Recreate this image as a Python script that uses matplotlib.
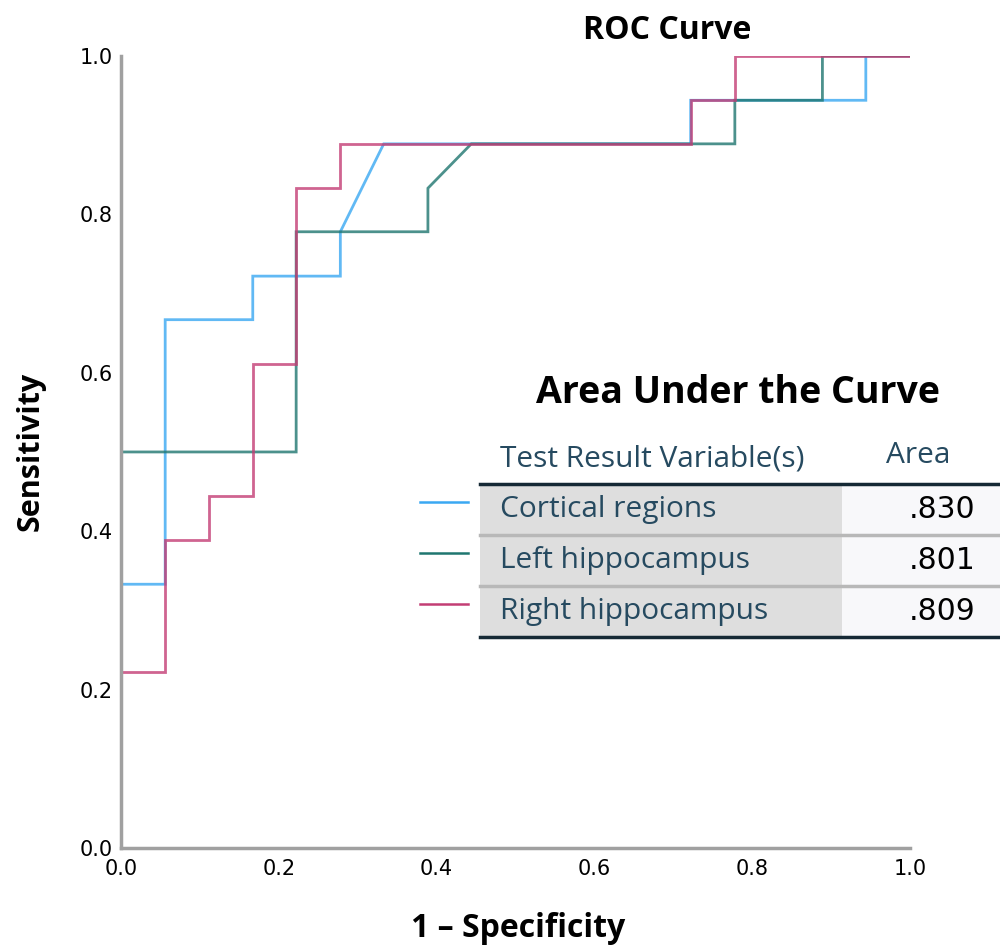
import numpy as np
import matplotlib
matplotlib.use('Agg')
import matplotlib.pyplot as plt
from matplotlib.patches import Rectangle

# ROC curve points (1 - specificity, sensitivity)
cortical_fpr = [0.0, 0.0, 0.056, 0.056, 0.167, 0.167, 0.278, 0.278, 0.333, 0.722, 0.722, 0.944, 0.944, 1.0]
cortical_tpr = [0.0, 0.333, 0.333, 0.667, 0.667, 0.722, 0.722, 0.778, 0.889, 0.889, 0.944, 0.944, 1.0, 1.0]

left_fpr = [0.0, 0.0, 0.222, 0.222, 0.389, 0.389, 0.444, 0.778, 0.778, 0.889, 0.889, 1.0]
left_tpr = [0.0, 0.5, 0.5, 0.778, 0.778, 0.833, 0.889, 0.889, 0.944, 0.944, 1.0, 1.0]

right_fpr = [0.0, 0.0, 0.056, 0.056, 0.111, 0.111, 0.167, 0.167, 0.222, 0.222, 0.278, 0.278, 0.722, 0.722, 0.778, 0.778, 1.0]
right_tpr = [0.0, 0.222, 0.222, 0.389, 0.389, 0.444, 0.444, 0.611, 0.611, 0.833, 0.833, 0.889, 0.889, 0.944, 0.944, 1.0, 1.0]

variables = ['Cortical regions', 'Left hippocampus', 'Right hippocampus']
areas = ['.830', '.801', '.809']
colors = ['#3aa8f2', '#1f7670', '#c33d74']

ticks = [0.0, 0.2, 0.4, 0.6, 0.8, 1.0]

fig = plt.figure(figsize=(10, 9.48), dpi=100)
ax = fig.add_axes([0.121, 0.1055, 0.789, 0.8355])

series = [(cortical_fpr, cortical_tpr), (left_fpr, left_tpr), (right_fpr, right_tpr)]
for (x, y), c in zip(series, colors):
    ax.plot(x, y, color=c, linewidth=2, alpha=0.8, solid_joinstyle='miter')

ax.set_xlim(0, 1)
ax.set_ylim(0, 1)
ax.set_xticks(ticks)
ax.set_yticks(ticks)
ax.set_xticklabels([f'{t:.1f}' for t in ticks])
ax.set_yticklabels([f'{t:.1f}' for t in ticks])
ax.tick_params(length=0, labelsize=15)
ax.tick_params(axis='x', pad=8)
ax.tick_params(axis='y', pad=6)
for lab in ax.get_xticklabels() + ax.get_yticklabels():
    lab.set_fontfamily(['Liberation Sans Narrow', 'DejaVu Sans'])
for s in ['top', 'right']:
    ax.spines[s].set_visible(False)
for s in ['left', 'bottom']:
    ax.spines[s].set_color('#a0a0a0')
    ax.spines[s].set_linewidth(2.5)

# titles and axis labels
fig.text(0.667, 0.968, 'ROC Curve', ha='center', va='center',
         fontsize=23, fontweight='bold', family='Open Sans')
fig.text(0.031, 0.524, 'Sensitivity', ha='center', va='center', rotation=90,
         fontsize=22, fontweight='bold', family='Open Sans')
fig.text(0.518, 0.021, '1 \u2013 Specificity', ha='center', va='center',
         fontsize=23, fontweight='bold', family='Open Sans')

# Area Under the Curve table overlay (pixel coordinates)
ov = fig.add_axes([0, 0, 1, 1], facecolor='none')
ov.set_xlim(0, 1000)
ov.set_ylim(948, 0)
ov.axis('off')

ov.text(738, 393, 'Area Under the Curve', ha='center', va='center',
        fontsize=27, fontweight='bold', family='Open Sans')
ov.text(500, 459, 'Test Result Variable(s)', ha='left', va='center',
        fontsize=21.5, color='#264a60', family='Open Sans')
ov.text(918, 455, 'Area', ha='center', va='center',
        fontsize=21.5, color='#264a60', family='Open Sans')

row_top = 484
row_h = 51
for i, (name, area, c) in enumerate(zip(variables, areas, colors)):
    y0 = row_top + i * row_h
    ov.add_patch(Rectangle((480, y0), 362, row_h, facecolor='#dedede', edgecolor='none'))
    ov.add_patch(Rectangle((842, y0), 158, row_h, facecolor='#f8f8fa', edgecolor='none'))
    if i > 0:
        ov.plot([480, 1000], [y0, y0], color='#b8b8b8', linewidth=2.5)
    ov.text(500, y0 + row_h / 2, name, ha='left', va='center',
            fontsize=21.5, color='#264a60', family='Open Sans')
    ov.text(975, y0 + row_h / 2, area, ha='right', va='center',
            fontsize=21.5, color='#000000', family='DejaVu Sans')
    ov.plot([420, 468], [y0 + 18, y0 + 18], color=c, linewidth=1.8)

ov.plot([480, 1000], [row_top, row_top], color='#152935', linewidth=2.5)
ov.plot([480, 1000], [row_top + 3 * row_h, row_top + 3 * row_h], color='#152935', linewidth=2.5)

fig.savefig('out.png', dpi=100)
